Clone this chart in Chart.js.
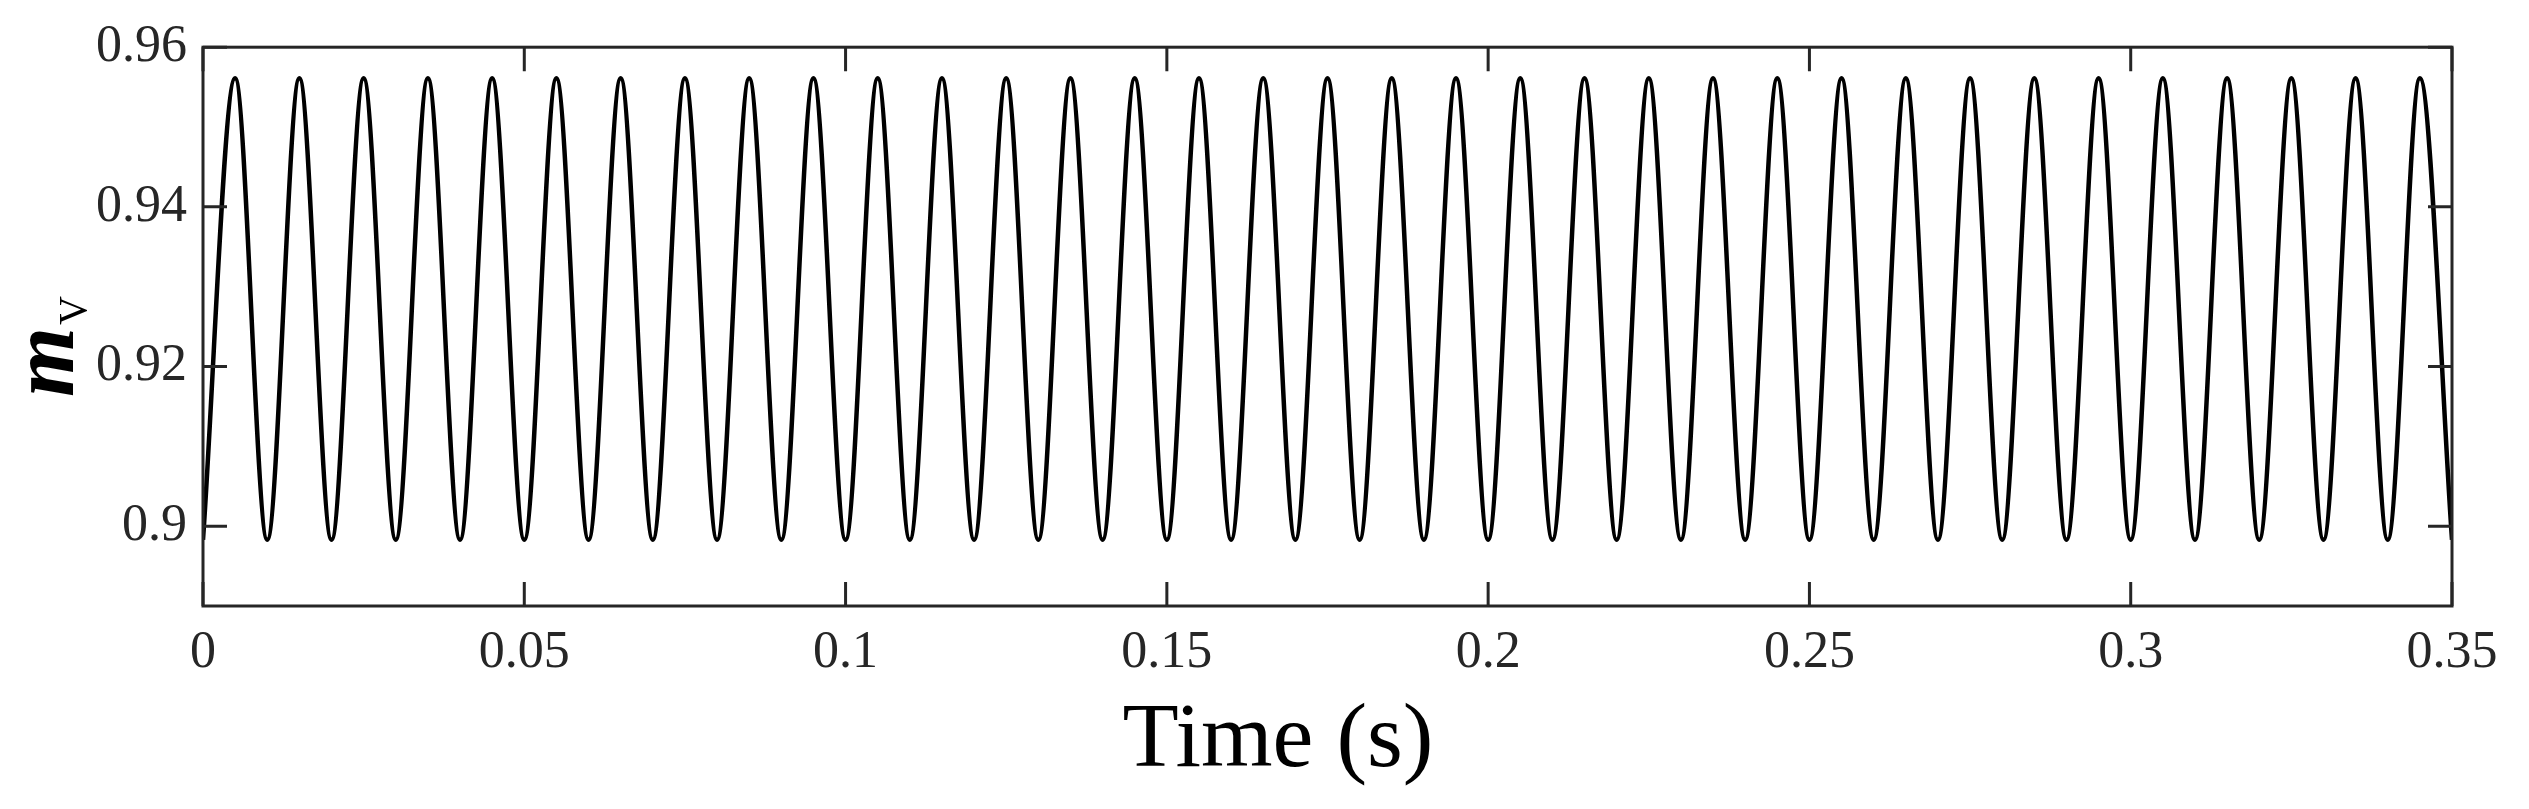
<!DOCTYPE html>
<html>
<head>
<meta charset="utf-8">
<script src="https://cdn.jsdelivr.net/npm/chart.js@4"></script>
<style>
  body { margin: 0; background: #fff; }
  canvas { display: block; }
</style>
</head>
<body>
<canvas id="mvChart" width="2529" height="809"></canvas>
<script>
// waveform extrema (troughs and peaks)
const timeS = [0, 0.005, 0.01, 0.015, 0.02, 0.025, 0.03, 0.035, 0.04, 0.045, 0.05, 0.055, 0.06, 0.065, 0.07, 0.075,
  0.08, 0.085, 0.09, 0.095, 0.1, 0.105, 0.11, 0.115, 0.12, 0.125, 0.13, 0.135, 0.14, 0.145, 0.15, 0.155, 0.16, 0.165,
  0.17, 0.175, 0.18, 0.185, 0.19, 0.195, 0.2, 0.205, 0.21, 0.215, 0.22, 0.225, 0.23, 0.235, 0.24, 0.245, 0.25, 0.255,
  0.26, 0.265, 0.27, 0.275, 0.28, 0.285, 0.29, 0.295, 0.3, 0.305, 0.31, 0.315, 0.32, 0.325, 0.33, 0.335, 0.34, 0.345, 0.35];
const mV = [0.8983, 0.9561, 0.8983, 0.9561, 0.8983, 0.9561, 0.8983, 0.9561, 0.8983, 0.9561, 0.8983, 0.9561, 0.8983,
  0.9561, 0.8983, 0.9561, 0.8983, 0.9561, 0.8983, 0.9561, 0.8983, 0.9561, 0.8983, 0.9561, 0.8983, 0.9561, 0.8983,
  0.9561, 0.8983, 0.9561, 0.8983, 0.9561, 0.8983, 0.9561, 0.8983, 0.9561, 0.8983, 0.9561, 0.8983, 0.9561, 0.8983,
  0.9561, 0.8983, 0.9561, 0.8983, 0.9561, 0.8983, 0.9561, 0.8983, 0.9561, 0.8983, 0.9561, 0.8983, 0.9561, 0.8983,
  0.9561, 0.8983, 0.9561, 0.8983, 0.9561, 0.8983, 0.9561, 0.8983, 0.9561, 0.8983, 0.9561, 0.8983, 0.9561, 0.8983,
  0.9561, 0.8983];

const xTicks = [0, 0.05, 0.1, 0.15, 0.2, 0.25, 0.3, 0.35];
const xTickLabels = ["0", "0.05", "0.1", "0.15", "0.2", "0.25", "0.3", "0.35"];
const yTicks = [0.9, 0.92, 0.94, 0.96];
const yTickLabels = ["0.9", "0.92", "0.94", "0.96"];

const serif = '"Liberation Serif", "Times New Roman", serif';
const axisColor = "#262626";

// matlab style box, inward ticks and axis titles
const boxPlugin = {
  id: "boxPlugin",
  afterDraw(chart) {
    const ctx = chart.ctx;
    const { left, top, right, bottom } = chart.chartArea;
    const xs = chart.scales.x;
    const ys = chart.scales.y;
    const tl = 24;
    ctx.save();
    ctx.strokeStyle = axisColor;
    ctx.lineWidth = 3;
    ctx.strokeRect(left, top, right - left, bottom - top);
    ctx.beginPath();
    xTicks.forEach((v) => {
      const px = xs.getPixelForValue(v);
      ctx.moveTo(px, bottom);
      ctx.lineTo(px, bottom - tl);
      ctx.moveTo(px, top);
      ctx.lineTo(px, top + tl);
    });
    yTicks.forEach((v) => {
      const py = ys.getPixelForValue(v);
      ctx.moveTo(left, py);
      ctx.lineTo(left + tl, py);
      ctx.moveTo(right, py);
      ctx.lineTo(right - tl, py);
    });
    ctx.stroke();

    // x title
    ctx.fillStyle = "#000";
    ctx.font = "92px " + serif;
    ctx.textAlign = "center";
    ctx.textBaseline = "alphabetic";
    ctx.fillText("Time (s)", 1278, 766);

    // y title m_V, rotated
    ctx.translate(73, 397);
    ctx.rotate(-Math.PI / 2);
    ctx.textAlign = "left";
    ctx.font = "italic bold 90px " + serif;
    ctx.fillText("m", 0, 0);
    const mw = ctx.measureText("m").width;
    ctx.font = "40px " + serif;
    ctx.fillText("V", mw + 2, 13);
    ctx.restore();
  },
};

const ctxLine = document.getElementById("mvChart").getContext("2d");
const mvChart = new Chart(ctxLine, {
  type: "line",
  data: {
    datasets: [
      {
        label: "mV",
        data: timeS.map((t, i) => ({ x: t, y: mV[i] })),
        borderColor: "#000",
        borderWidth: 4.5,
        pointRadius: 0,
        fill: false,
        cubicInterpolationMode: "monotone",
      },
    ],
  },
  options: {
    responsive: false,
    animation: false,
    events: [],
    layout: { padding: { top: 43, right: 77, left: 0, bottom: 0 } },
    plugins: {
      legend: { display: false },
      tooltip: { enabled: false },
    },
    scales: {
      x: {
        type: "linear",
        min: 0,
        max: 0.35,
        afterBuildTicks: (scale) => {
          scale.ticks = xTicks.map((v) => ({ value: v }));
        },
        afterFit: (scale) => {
          scale.height = 203;
        },
        grid: { display: false, drawTicks: false, tickLength: 0 },
        border: { display: false },
        ticks: {
          autoSkip: false,
          maxRotation: 0,
          padding: 16,
          color: axisColor,
          font: { family: serif, size: 52 },
          callback: (v) => xTickLabels[xTicks.findIndex((t) => Math.abs(t - v) < 1e-9)],
        },
      },
      y: {
        type: "linear",
        min: 0.89,
        max: 0.96,
        afterBuildTicks: (scale) => {
          scale.ticks = yTicks.map((v) => ({ value: v }));
        },
        afterFit: (scale) => {
          scale.width = 203;
        },
        grid: { display: false, drawTicks: false, tickLength: 0 },
        border: { display: false },
        ticks: {
          autoSkip: false,
          padding: 16,
          color: axisColor,
          font: { family: serif, size: 52 },
          callback: (v) => yTickLabels[yTicks.findIndex((t) => Math.abs(t - v) < 1e-9)],
        },
      },
    },
  },
  plugins: [boxPlugin],
});
</script>
</body>
</html>
